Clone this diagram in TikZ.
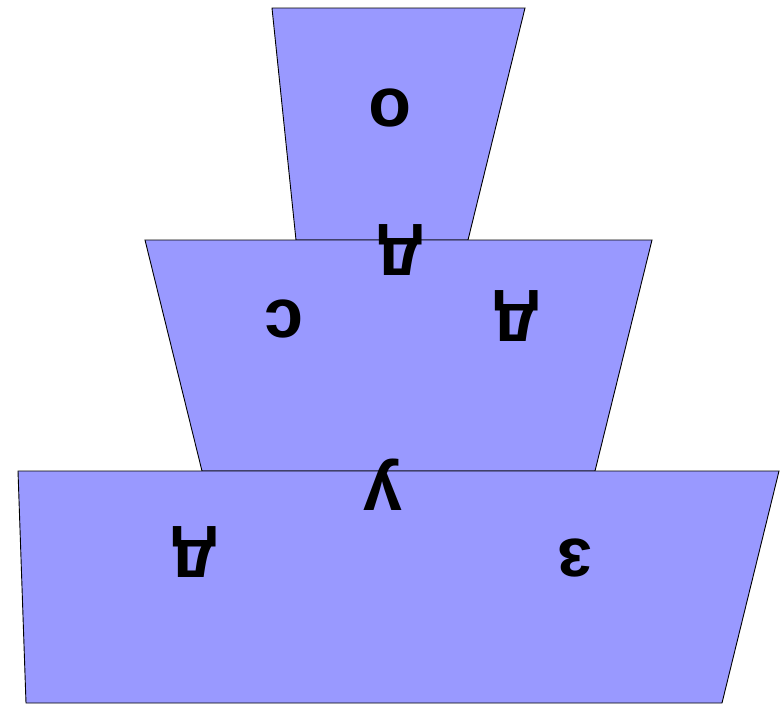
\documentclass[tikz,border=0pt]{standalone}
\usepackage{fontspec}
\setmainfont{Liberation Sans}
\definecolor{trapfill}{RGB}{153,153,255}
\tikzset{
  trap/.style={draw=black, line width=0.9pt, fill=trapfill, line join=miter},
  lbl/.style={rotate=180, anchor=base, inner sep=0pt, font=\fontsize{70}{84}\selectfont\bfseries}
}
\begin{document}
\begin{tikzpicture}[x=1pt,y=-1pt]
\useasboundingbox (0,0) rectangle (782,704);
\draw[trap] (272,8) -- (525,8) -- (468,240) -- (296,240) -- cycle;
\draw[trap] (145,240) -- (652,240) -- (595,471) -- (202,471) -- cycle;
\draw[trap] (18,471) -- (779,471) -- (722,703) -- (26,703) -- cycle;
\node[lbl] (o1) at (390,89) {о};
\node[lbl] (d1) at (400,238) {д};
\node[lbl] (c1) at (284,300) {с};
\node[lbl] (d2) at (516,304) {д};
\node[lbl] (y1) at (383,473) {у};
\node[lbl] (d3) at (194,540) {д};
\node[lbl] (z1) at (575,539) {з};
\end{tikzpicture}
\end{document}
